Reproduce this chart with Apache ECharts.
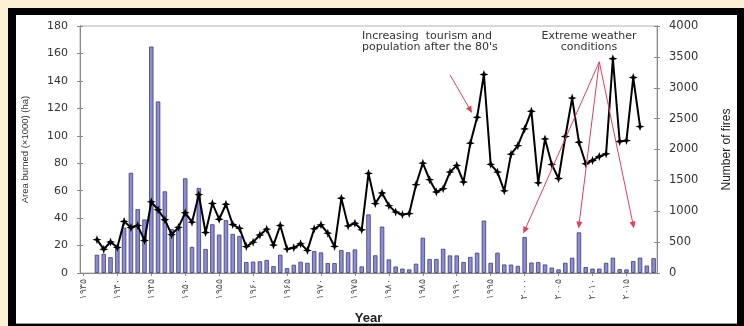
<!DOCTYPE html>
<html>
<head>
<meta charset="utf-8">
<script src="https://cdn.jsdelivr.net/npm/echarts@6/dist/echarts.min.js"></script>
<style>
  html, body { margin: 0; padding: 0; width: 744px; height: 326px; overflow: hidden; background: #FDF1D5; }
  #frame { position: absolute; left: 8px; top: 8px; width: 736px; height: 318px; background: #000; }
  #panel { position: absolute; left: 16px; top: 15px; width: 721px; height: 309px; background: #fff; border-bottom: 1px solid #999; box-sizing: border-box; }
  #chart { position: absolute; left: 0; top: 0; width: 744px; height: 326px; }
</style>
</head>
<body>
<div id="frame"></div>
<div id="panel"></div>
<div id="chart"></div>
<script>
// Years on the category axis
const firstYear = 1935;
const lastYear = 2019;
const years = [];
for (let y = firstYear; y <= lastYear; y++) years.push(String(y));

// Tick labels shown every five years (Persian digits)
const tickLabels = ['۱۹۳۵','۱۹۴۰','۱۹۴۵','۱۹۵۰','۱۹۵۵','۱۹۶۰','۱۹۶۵','۱۹۷۰','۱۹۷۵',
  '۱۹۸۰','۱۹۸۵','۱۹۹۰','۱۹۹۵','۲۰۰۰','۲۰۰۵','۲۰۱۰','۲۰۱۵'];

// Area burned (x1000 ha), one value per year 1935-2019
const areaBurned = [null, null,
  13.3, 14, 11.5, 18.5, 33, 73, 46.5, 39, 165, 125,
  59.5, 32, 33, 69, 19, 62, 17.5, 35.5, 28, 38.5,
  28.5, 27, 8, 8.3, 8.5, 9.5, 5, 13.3, 3.5, 6,
  8.2, 7.4, 16, 15, 7.2, 7.2, 16.7, 15.1, 17.2, 4.8,
  42.7, 12.9, 33.8, 9.9, 4.7, 3.2, 2.6, 6.8, 25.7, 10.2,
  10.2, 17.6, 12.8, 12.8, 8, 11.7, 14.8, 38.2, 7.4, 14.8,
  6.2, 6.1, 5.2, 26.2, 7.6, 8, 6.2, 3.9, 2.6, 7.4,
  11.1, 29.6, 4.3, 3.2, 3.2, 7.4, 11.1, 2.8, 2.6, 8.7,
  11.2, 5.4, 10.8];

// Number of fires, one value per year 1935-2019
const numberOfFires = [null, null,
  540, 385, 502, 414, 836, 737, 768, 527, 1153, 1024,
  863, 621, 740, 975, 823, 1268, 656, 1126, 871, 1113,
  785, 723, 428, 500, 615, 710, 452, 769, 387, 409,
  473, 366, 715, 780, 645, 430, 1210, 763, 806, 699,
  1613, 1124, 1296, 1091, 989, 946, 962, 1430, 1779, 1511,
  1312, 1366, 1634, 1742, 1473, 2102, 2521, 3215, 1760, 1634,
  1330, 1925, 2062, 2333, 2620, 1460, 2172, 1758, 1530, 2210,
  2833, 2118, 1769, 1822, 1887, 1930, 3470, 2129, 2145, 3166,
  2371, null, null];

// Annotation arrows, given as [year, fires] from -> to
const tourismArrow = [['1989', 3210], ['1992', 2640]];
const weatherArrows = [
  [['2011', 3420], ['2000', 690]],
  [['2011', 3420], ['2008', 775]],
  [['2011', 3420], ['2016', 775]]
];

const axisGray = '#8a8a8a';
const textDark = '#333';
const arrowRed = '#E0405A';
const labelFont = 'DejaVu Sans, Verdana, sans-serif';

// four-pointed star marker
const star = 'path://M0,-10 L2.6,-2.6 L10,0 L2.6,2.6 L0,10 L-2.6,2.6 L-10,0 L-2.6,-2.6 Z';

const chart = echarts.init(document.getElementById('chart'), null, { renderer: 'canvas' });

const arrowLines = [tourismArrow].concat(weatherArrows).map(a => [
  { coord: a[0], symbol: 'none' },
  { coord: a[1], symbol: 'triangle' }
]);

const isTickYear = (i, v) => (Number(v) - firstYear) % 5 === 0;

// value axes: one visible with labels and outward ticks, one mirror with inward ticks
function valueAxis(side, max, interval, extra) {
  return Object.assign({
    type: 'value', position: side,
    min: 0, max: max, interval: interval,
    axisLine: { show: true, lineStyle: { color: axisGray } },
    axisTick: { show: true, length: 3, lineStyle: { color: axisGray } },
    splitLine: { show: false }
  }, extra);
}

chart.setOption({
  animation: false,
  backgroundColor: 'transparent',
  textStyle: { fontFamily: 'Liberation Sans, Arial, sans-serif' },
  grid: {
    left: 80, right: 87, top: 26, bottom: 53,
    outerBoundsMode: 'none',
    show: true, borderColor: '#b0b0b0', borderWidth: 1, backgroundColor: 'transparent'
  },
  xAxis: {
    type: 'category',
    data: years,
    boundaryGap: true,
    name: 'Year',
    nameLocation: 'middle',
    nameGap: 39,
    nameTextStyle: { fontSize: 13, fontWeight: 'bold', color: '#222' },
    axisLine: { lineStyle: { color: axisGray, width: 1 } },
    axisTick: {
      show: true, length: 3, alignWithLabel: true,
      interval: isTickYear,
      lineStyle: { color: axisGray }
    },
    axisLabel: {
      rotate: 90,
      margin: 6,
      fontSize: 9.5,
      fontFamily: labelFont,
      color: '#555',
      interval: isTickYear,
      formatter: v => tickLabels[(Number(v) - firstYear) / 5]
    },
    splitLine: { show: false }
  },
  yAxis: [
    valueAxis('left', 180, 20, {
      name: 'Area burned (×1000) (ha)',
      nameLocation: 'middle',
      nameGap: 50,
      nameTextStyle: { fontSize: 9.5, color: textDark },
      axisLabel: { fontSize: 11, fontFamily: labelFont, color: textDark, margin: 12 }
    }),
    valueAxis('right', 4000, 500, {
      name: 'Number of fires',
      nameLocation: 'middle',
      nameGap: 64,
      nameRotate: 90,
      nameTextStyle: { fontSize: 12, color: '#222' },
      axisLabel: { fontSize: 11.5, fontFamily: labelFont, color: textDark, margin: 12, formatter: v => String(v) }
    }),
    valueAxis('left', 180, 20, {
      axisLabel: { show: false },
      axisTick: { show: true, inside: true, length: 3, lineStyle: { color: axisGray } }
    }),
    valueAxis('right', 4000, 500, {
      axisLabel: { show: false },
      axisTick: { show: true, inside: true, length: 3, lineStyle: { color: axisGray } }
    })
  ],
  series: [
    {
      name: 'Area burned',
      type: 'bar',
      yAxisIndex: 0,
      data: areaBurned,
      barWidth: 4.4,
      itemStyle: { color: '#8C8CD6', borderColor: '#3E3E6E', borderWidth: 0.8 },
      z: 2
    },
    {
      name: 'Number of fires',
      type: 'line',
      yAxisIndex: 1,
      data: numberOfFires,
      symbol: star,
      symbolSize: 9,
      showSymbol: true,
      showAllSymbol: true,
      itemStyle: { color: '#000' },
      lineStyle: { color: '#000', width: 2 },
      z: 3,
      markLine: {
        silent: true,
        symbolSize: [6, 7],
        label: { show: false },
        lineStyle: { color: arrowRed, width: 1, type: 'solid' },
        itemStyle: { color: '#E0203A' },
        emphasis: { disabled: true },
        data: arrowLines
      }
    }
  ],
  graphic: [
    {
      type: 'text', x: 362, y: 30,
      style: {
        text: 'Increasing  tourism and\npopulation after the 80\'s',
        fontSize: 11, lineHeight: 11.5, fill: textDark,
        fontFamily: labelFont
      }
    },
    {
      type: 'text', x: 589, y: 30,
      style: {
        text: 'Extreme weather\nconditions',
        textAlign: 'center',
        fontSize: 11, lineHeight: 11.5, fill: textDark,
        fontFamily: labelFont
      }
    }
  ]
});
</script>
</body>
</html>
